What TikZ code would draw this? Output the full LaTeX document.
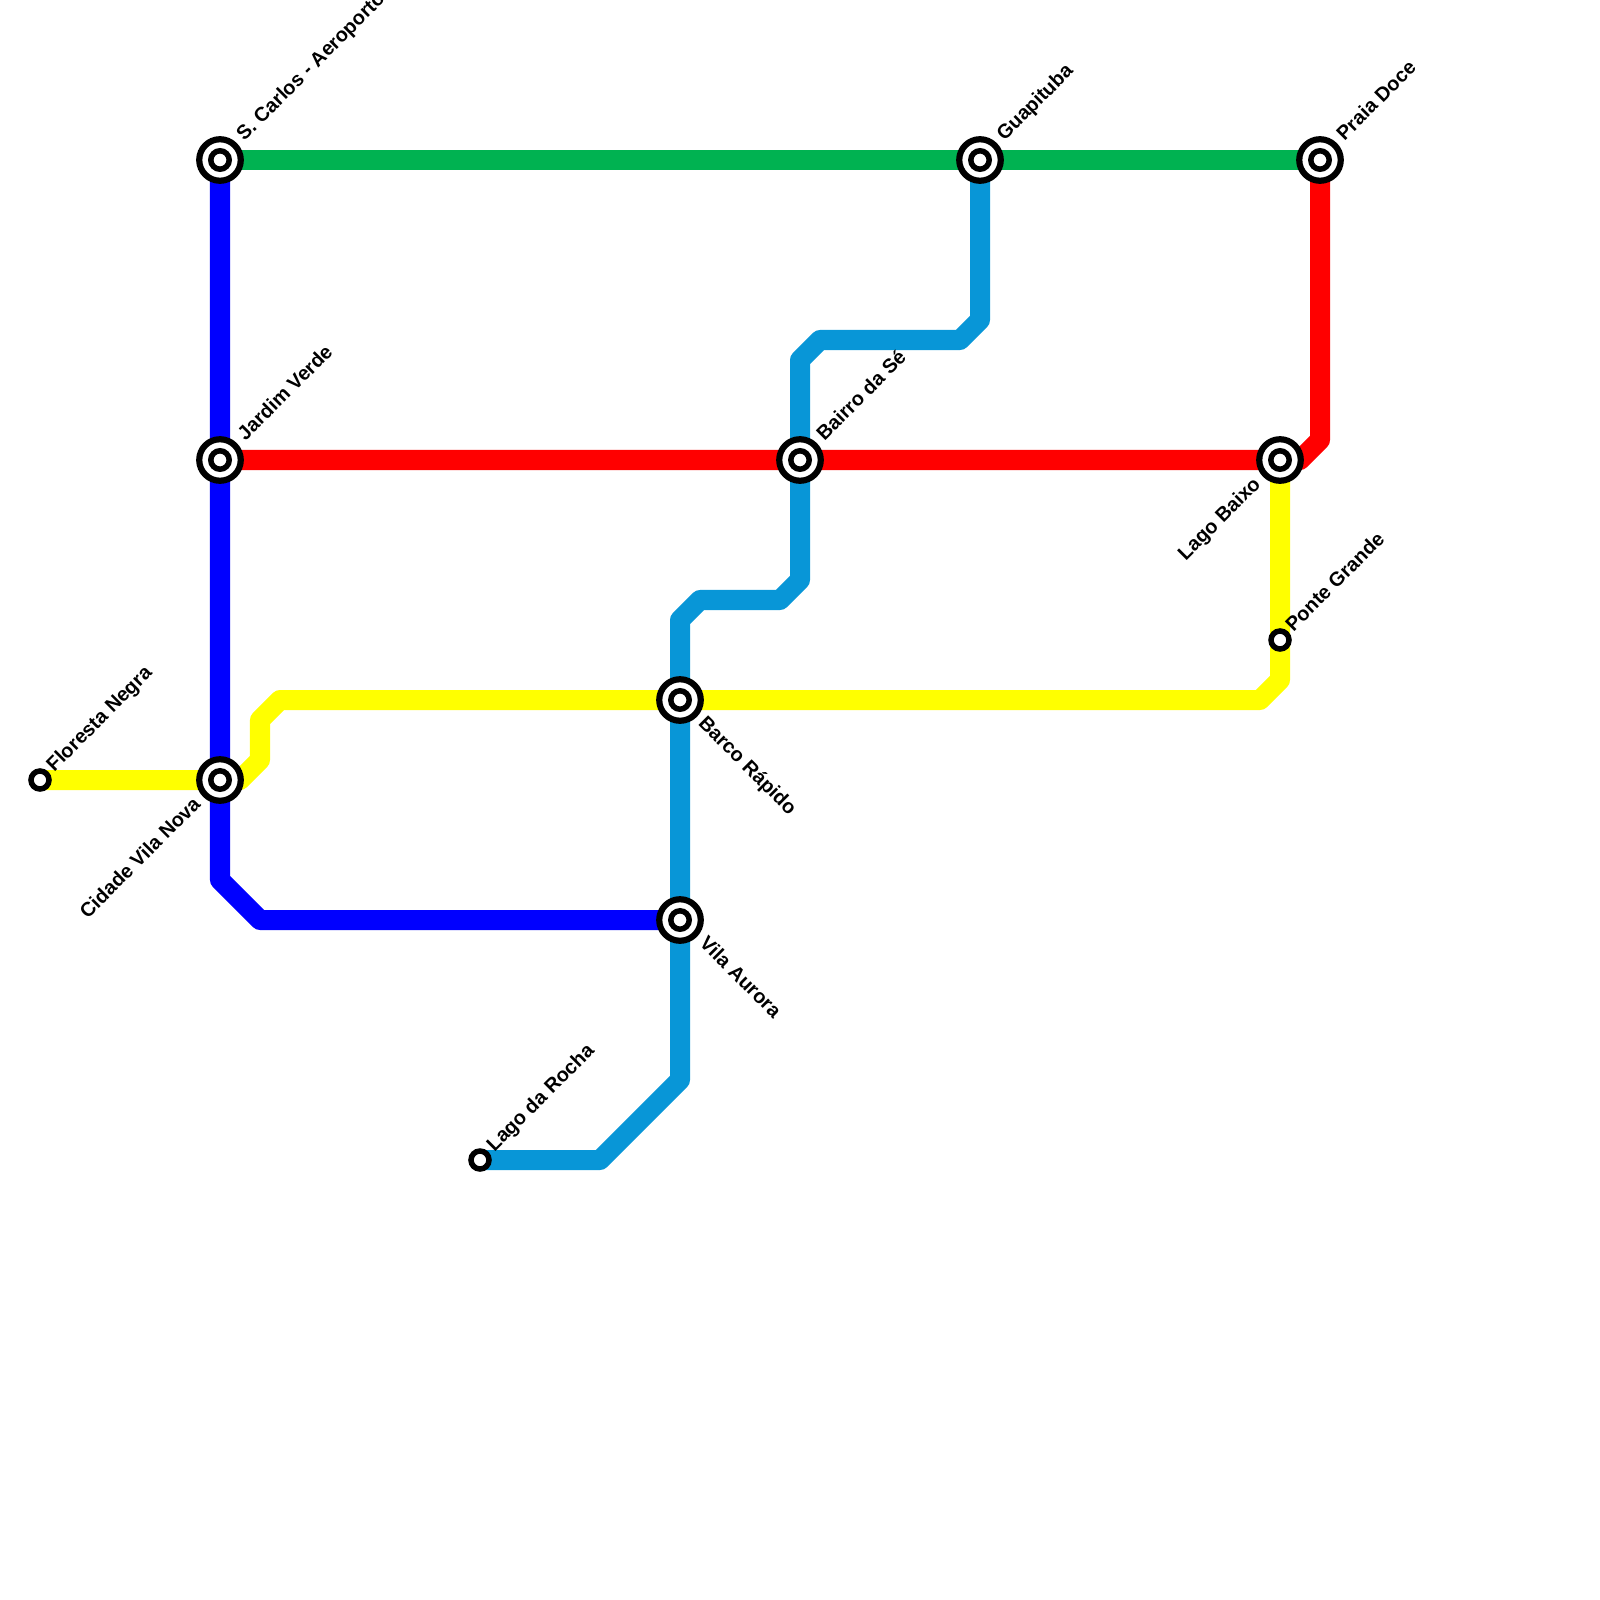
\documentclass[tikz,border=0pt]{standalone}
\usepackage{fontspec}
\setmainfont{Liberation Sans}
\usepackage{xcolor}
\usepackage{tikz}
\usetikzlibrary{backgrounds}
\definecolor{linegreen}{HTML}{00B251}
\definecolor{lineblue}{HTML}{0000FF}
\definecolor{linered}{HTML}{FF0000}
\definecolor{lineyellow}{HTML}{FFFF00}
\definecolor{linesky}{HTML}{0896D7}
\tikzstyle{metroline}=[line width=0.2cm,line join=round]
\tikzstyle{smallstop}=[circle,draw=black,fill=white,line width=0.055cm,
  minimum size=0.18cm,inner sep=0pt]
\tikzstyle{bigstop}=[circle,draw=black,fill=white,line width=0.062cm,
  minimum size=0.415cm,inner sep=0pt,
  path picture={\draw[line width=0.055cm] (path picture bounding box.center) circle (0.092cm);}]
\tikzstyle{stoplabel}=[inner sep=0pt,font=\fontsize{5.65pt}{7pt}\selectfont\bfseries]
\tikzstyle{labelup}=[stoplabel,rotate=45,anchor=base west]
\tikzstyle{labeldown}=[stoplabel,rotate=-45,anchor=base west]
\tikzstyle{labelback}=[stoplabel,rotate=45,anchor=base east]

\begin{document}
\begin{tikzpicture}[x=0.01cm,y=-0.01cm]
  \useasboundingbox (0,0) rectangle (1600,1600);
  % stations
  \node[bigstop] (scarlos) at (220,160) {};
  \node[bigstop] (jardim) at (220,460) {};
  \node[bigstop] (cidade) at (220,780) {};
  \node[bigstop] (barco) at (680,700) {};
  \node[bigstop] (aurora) at (680,920) {};
  \node[bigstop] (bairro) at (800,460) {};
  \node[bigstop] (guapituba) at (980,160) {};
  \node[bigstop] (lagobaixo) at (1280,460) {};
  \node[bigstop] (praia) at (1320,160) {};
  \node[smallstop] (floresta) at (40,780) {};
  \node[smallstop] (rocha) at (480,1160) {};
  \node[smallstop] (ponte) at (1280,640) {};
  % bends
  \coordinate (b1) at (220,880);
  \coordinate (b2) at (260,920);
  \coordinate (r1) at (1300,460);
  \coordinate (r2) at (1320,440);
  \coordinate (y1) at (240,780);
  \coordinate (y2) at (260,760);
  \coordinate (y3) at (260,720);
  \coordinate (y4) at (280,700);
  \coordinate (y5) at (1260,700);
  \coordinate (y6) at (1280,680);
  \coordinate (s1) at (600,1160);
  \coordinate (s2) at (680,1080);
  \coordinate (s3) at (680,620);
  \coordinate (s4) at (700,600);
  \coordinate (s5) at (780,600);
  \coordinate (s6) at (800,580);
  \coordinate (s7) at (800,360);
  \coordinate (s8) at (820,340);
  \coordinate (s9) at (960,340);
  \coordinate (s10) at (980,320);
  % lines
  \begin{scope}[on background layer]
    \draw[metroline,linegreen] (scarlos.center) -- (guapituba.center) -- (praia.center);
    \draw[metroline,lineblue] (scarlos.center) -- (jardim.center) -- (cidade.center)
      -- (b1) -- (b2) -- (aurora.center);
    \draw[metroline,linered] (jardim.center) -- (bairro.center) -- (lagobaixo.center)
      -- (r1) -- (r2) -- (praia.center);
    \draw[metroline,lineyellow] (floresta.center) -- (cidade.center) -- (y1) -- (y2) -- (y3) -- (y4)
      -- (barco.center) -- (y5) -- (y6) -- (ponte.center) -- (lagobaixo.center);
    \draw[metroline,linesky] (rocha.center) -- (s1) -- (s2) -- (aurora.center) -- (barco.center)
      -- (s3) -- (s4) -- (s5) -- (s6) -- (bairro.center) -- (s7) -- (s8) -- (s9) -- (s10)
      -- (guapituba.center);
  \end{scope}
  % labels
  \node[labelup] (lblscarlos) at (244,142) {S. Carlos - Aeroporto};
  \node[labelup] (lbljardim) at (245,442) {Jardim Verde};
  \node[labelup] (lblfloresta) at (54,773) {Floresta Negra};
  \node[labelback] (lblcidade) at (202,805) {Cidade Vila Nova};
  \node[labeldown] (lblbarco) at (697,724) {Barco Rápido};
  \node[labeldown] (lblaurora) at (698,944) {Vila Aurora};
  \node[labelup] (lblrocha) at (494,1153) {Lago da Rocha};
  \node[labelup] (lblbairro) at (824,442) {Bairro da Sé};
  \node[labelup] (lblguapituba) at (1004,142) {Guapituba};
  \node[labelup] (lblpraia) at (1344,142) {Praia Doce};
  \node[labelback] (lbllagobaixo) at (1262,485) {Lago Baixo};
  \node[labelup] (lblponte) at (1293,633) {Ponte Grande};
\end{tikzpicture}
\end{document}
